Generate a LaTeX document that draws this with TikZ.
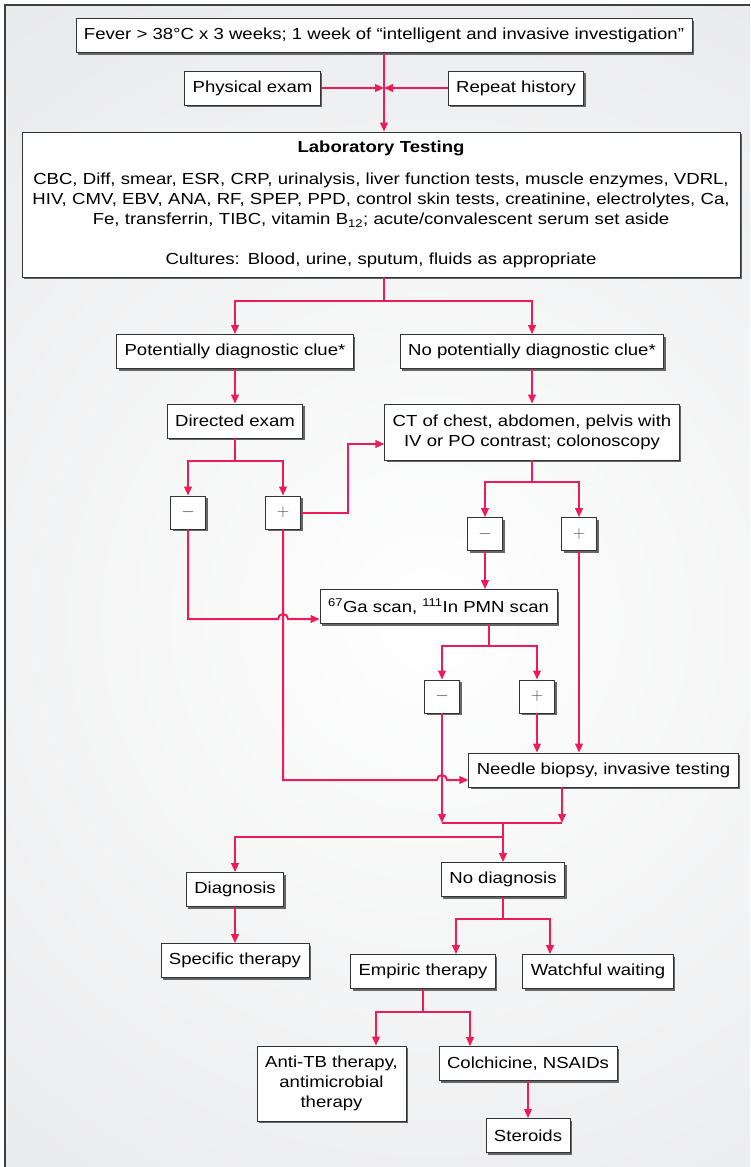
\documentclass[tikz,border=0pt]{standalone}
\usepackage{fontspec}
\setmainfont[FakeStretch=1.16]{Liberation Sans}
\usetikzlibrary{arrows.meta,shadows}
\definecolor{flowred}{RGB}{237,27,87}
\definecolor{bggray}{RGB}{228,229,231}

\begin{document}
\begin{tikzpicture}[x=1pt, y=-1pt,
      every node/.style={font=\fontsize{16}{20}\selectfont},
      box/.style={draw=black!80, fill=white, line width=0.7pt, inner xsep=8pt,
        minimum height=34pt,
        drop shadow={shadow xshift=2pt, shadow yshift=-2pt, fill=black!60, opacity=1}},
      sign/.style={box, minimum width=35pt, minimum height=33pt, inner sep=0pt, text=black!70},
      link/.style={draw=flowred, line width=2pt},
      arr/.style={link, -{Triangle[length=9pt,width=7.5pt]}}]
  %.
  \useasboundingbox (0,0) rectangle (750,1167);
  \fill[bggray] (5,5) rectangle (750,1167);
  \begin{scope}
    \clip (5,5) rectangle (750,1167);
    \shade[inner color=white, outer color=bggray] (430,620) circle (900);
  \end{scope}
  \draw[black!75, line width=1.2pt] (5,1167) -- (5,5) -- (750,5);
  %.
  \node[box] (fever) at (384,35.5) {Fever > 38°C x 3 weeks; 1 week of “intelligent and invasive investigation”};
  \node[box] (phys) at (252.5,88) {Physical exam};
  \node[box] (hist) at (516,88) {Repeat history};
  \node[box, text width=702pt, align=center, minimum height=145pt] (lab) at (381,204.5)
    {{\bfseries Laboratory Testing}\\[12pt]
     CBC, Diff, smear, ESR, CRP, urinalysis, liver function tests, muscle enzymes, VDRL,\\
     HIV, CMV, EBV, ANA, RF, SPEP, PPD, control skin tests, creatinine, electrolytes, Ca,\\
     Fe, transferrin, TIBC, vitamin B\textsubscript{12}; acute/convalescent serum set aside\\[20pt]
     Cultures: Blood, urine, sputum, fluids as appropriate};
  \node[box] (clue) at (235,351.5) {Potentially diagnostic clue*};
  \node[box] (noclue) at (532,351.5) {No potentially diagnostic clue*};
  \node[box] (exam) at (235,421) {Directed exam};
  \node[box, align=center, minimum height=56pt] (ct) at (532,432)
    {CT of chest, abdomen, pelvis with\\IV or PO contrast; colonoscopy};
  \node[sign] (examneg) at (188,512.5) {$-$};
  \node[sign] (exampos) at (283,512.5) {$+$};
  \node[sign] (ctneg) at (485,534) {$-$};
  \node[sign] (ctpos) at (579,534) {$+$};
  \node[box] (scan) at (438.5,606.5) {\textsuperscript{67}Ga scan, \textsuperscript{111}In PMN scan};
  \node[sign] (scanneg) at (442,696.5) {$-$};
  \node[sign] (scanpos) at (537,696.5) {$+$};
  \node[box] (biopsy) at (603.5,770) {Needle biopsy, invasive testing};
  \node[box] (diag) at (235,889.5) {Diagnosis};
  \node[box] (nodiag) at (503,879.5) {No diagnosis};
  \node[box] (specific) at (235,960.5) {Specific therapy};
  \node[box] (empiric) at (423,971.5) {Empiric therapy};
  \node[box] (watch) at (598,971.5) {Watchful waiting};
  \node[box, align=center, minimum height=75pt] (antitb) at (331.5,1083.5)
    {Anti-TB therapy,\\antimicrobial\\therapy};
  \node[box] (colch) at (528,1063.5) {Colchicine, NSAIDs};
  \node[box] (steroids) at (528,1135.5) {Steroids};
  %.
  \coordinate (labsplit) at (384,301);
  \coordinate (examsplit) at (235,461);
  \coordinate (ctsplit) at (532,482);
  \coordinate (scansplit) at (489,646);
  \coordinate (merge) at (503,823);
  \coordinate (mergeright) at (562,823);
  \coordinate (diagsplit) at (503,837);
  \coordinate (nodiagsplit) at (503,919);
  \coordinate (empsplit) at (423,1012);
  %.
  \draw[arr] (fever) -- (fever |- lab.north);
  \draw[arr] (phys) -- (phys -| fever);
  \draw[arr] (hist) -- (hist -| fever);
  \draw[link] (lab.south -| labsplit) -- (labsplit);
  \draw[arr] (labsplit) -| (clue);
  \draw[arr] (labsplit) -| (noclue);
  \draw[arr] (clue) -- (exam);
  \draw[arr] (noclue) -- (ct);
  \draw[link] (exam) -- (examsplit);
  \draw[arr] (examsplit) -| (examneg);
  \draw[arr] (examsplit) -| (exampos);
  \draw[arr] (exampos.east) -- ++(47,0) |- ([yshift=-12pt]ct.west);
  \draw[link] (ct.south -| ctsplit) -- (ctsplit);
  \draw[arr] (ctsplit) -| (ctneg);
  \draw[arr] (ctsplit) -| (ctpos);
  \draw[arr] (ctneg) -- (ctneg |- scan.north);
  \draw[arr] (examneg.south) |- ([xshift=-5pt, yshift=-12.5pt]exampos |- scan.west)
    arc[start angle=180, end angle=360, radius=5] -- ([yshift=-12.5pt]scan.west);
  \draw[arr] (exampos.south) |- ([xshift=-5pt, yshift=-10pt]scanneg |- biopsy.west)
    arc[start angle=180, end angle=360, radius=5] -- ([yshift=-10pt]biopsy.west);
  \draw[link] (scan.south -| scansplit) -- (scansplit);
  \draw[arr] (scansplit) -| (scanneg);
  \draw[arr] (scansplit) -| (scanpos);
  \draw[arr] (scanpos) -- (scanpos |- biopsy.north);
  \draw[arr] (ctpos) -- (ctpos |- biopsy.north);
  \draw[arr] (scanneg) -- (scanneg |- merge);
  \draw[arr] (biopsy.south -| mergeright) -- (mergeright);
  \draw[link] (scanneg |- merge) -- (mergeright);
  \draw[link] (merge) -- (diagsplit);
  \draw[arr] (diagsplit) -| (diag);
  \draw[arr] (merge) -- (nodiag);
  \draw[arr] (diag) -- (specific);
  \draw[link] (nodiag) -- (nodiagsplit);
  \draw[arr] (nodiagsplit) -| ([xshift=33pt]empiric.north);
  \draw[arr] (nodiagsplit) -| ([xshift=-48pt]watch.north);
  \draw[link] (empiric) -- (empsplit);
  \draw[arr] (empsplit) -| ([xshift=-47pt]empiric.south |- antitb.north);
  \draw[arr] (empsplit) -| ([xshift=-58pt]colch.north);
  \draw[arr] (colch) -- (steroids);
  %.
\end{tikzpicture}
\end{document}
